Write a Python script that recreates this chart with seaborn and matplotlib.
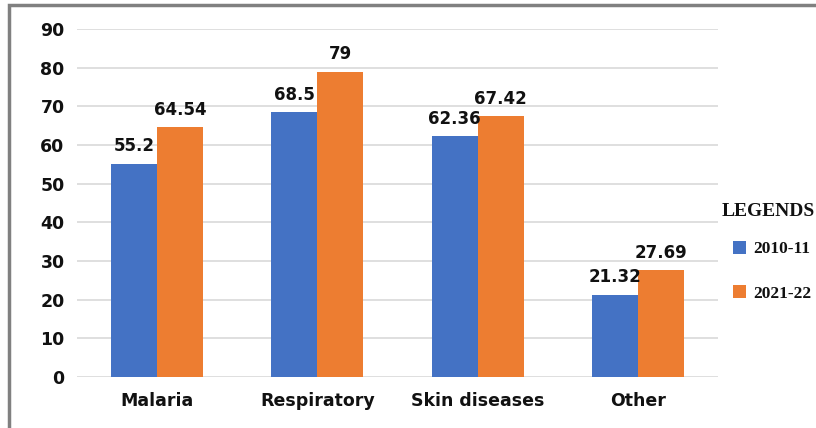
import matplotlib
matplotlib.use("Agg")
import matplotlib.pyplot as plt
import seaborn as sns
import pandas as pd
from matplotlib.patches import Rectangle

categories = ["Malaria", "Respiratory", "Skin diseases", "Other"]
series_names = ["2010-11", "2021-22"]
values_2010 = [55.2, 68.5, 62.36, 21.32]
values_2021 = [64.54, 79, 67.42, 27.69]
value_labels_2010 = ["55.2", "68.5", "62.36", "21.32"]
value_labels_2021 = ["64.54", "79", "67.42", "27.69"]
yticks = [0, 10, 20, 30, 40, 50, 60, 70, 80, 90]
colors = ["#4472C4", "#ED7D31"]

df = pd.DataFrame({
    "category": categories * 2,
    "series": [series_names[0]] * 4 + [series_names[1]] * 4,
    "value": values_2010 + values_2021,
})

sns.set_style("white")
plt.rcParams["font.family"] = ["DejaVu Sans"]

fig = plt.figure(figsize=(8.16, 4.28), dpi=100)
ax = fig.add_axes([77 / 816, 1 - 377 / 428, (718 - 77) / 816, (377 - 29) / 428])

sns.barplot(data=df, x="category", y="value", hue="series", order=categories,
            hue_order=series_names, palette=colors, width=0.575, saturation=1,
            linewidth=0, ax=ax, legend=True)

labels_all = [value_labels_2010, value_labels_2021]
for container, labs in zip(ax.containers, labels_all):
    ax.bar_label(container, labels=labs, padding=6, fontsize=12, fontweight="bold",
                 color="#111111")

ax.set_ylim(0, 90)
ax.set_yticks(yticks)
ax.set_yticklabels([str(t) for t in yticks], fontsize=12.5, fontweight="bold", color="#111111")
ax.set_xticks(range(len(categories)))
ax.set_xticklabels(categories, fontsize=12.5, fontweight="bold", color="#111111")
ax.tick_params(axis="x", pad=11, length=0)
ax.tick_params(axis="y", pad=9, length=0)
ax.set_xlabel("")
ax.set_ylabel("")
ax.set_xlim(-0.5, 3.5)
ax.yaxis.grid(True, color="#d9d9d9", linewidth=1.2)
ax.set_axisbelow(True)
for s in ax.spines.values():
    s.set_visible(False)

handles, labels = ax.get_legend_handles_labels()
ax.get_legend().remove()
fig.text(722 / 816, 1 - 212 / 428, "LEGENDS", family="Liberation Serif", weight="bold",
         fontsize=14, color="#111111", va="center", ha="left")
leg = fig.legend(handles, labels, loc="upper left", bbox_to_anchor=(726 / 816, 1 - 234 / 428),
                 frameon=False, handlelength=0.75, handleheight=0.75,
                 handletextpad=0.4, labelspacing=1.6, borderaxespad=0,
                 prop={"family": "Liberation Serif", "weight": "bold", "size": 12.5})
for t in leg.get_texts():
    t.set_color("#111111")

fig.patches.append(Rectangle((9 / 816, -0.1), 1.0, 1 - 5 / 428 + 0.1, transform=fig.transFigure,
                             fill=False, edgecolor="#808080", linewidth=2.5, zorder=0))

fig.savefig("out.png", dpi=100)
